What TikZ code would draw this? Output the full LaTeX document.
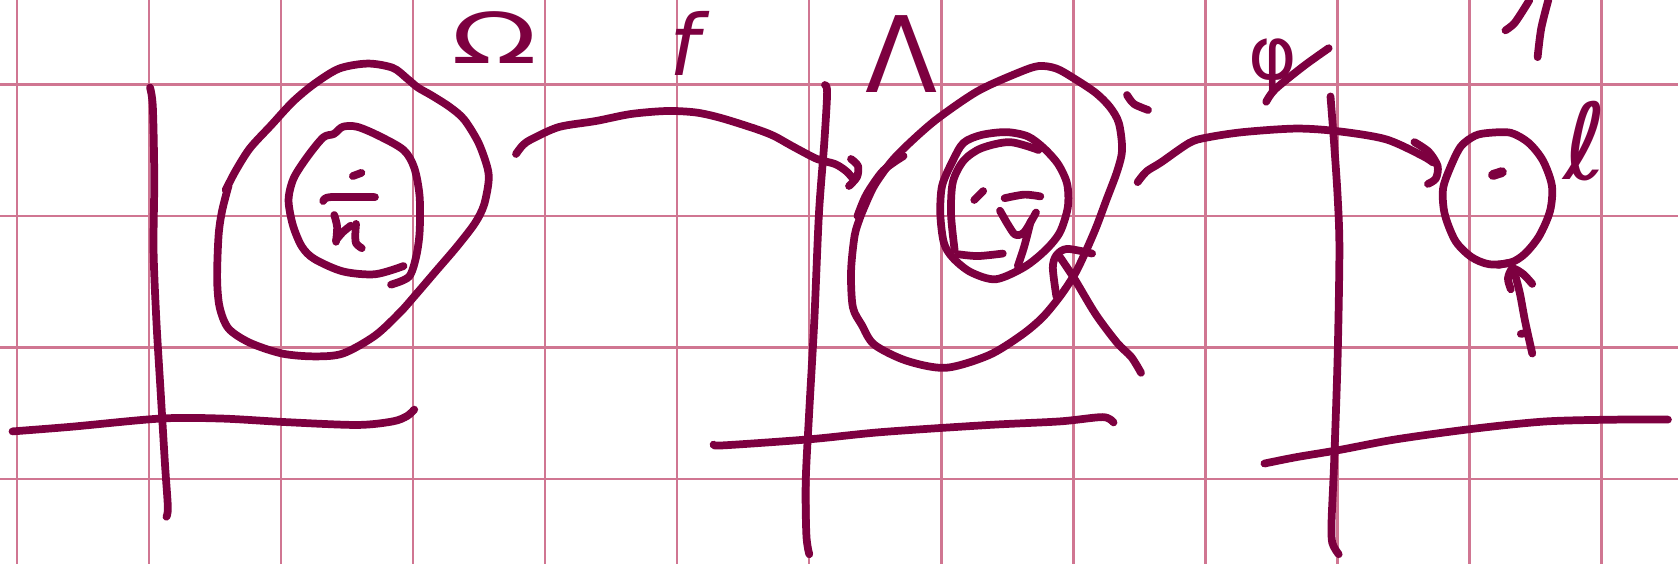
\documentclass[tikz,border=0pt]{standalone}
\usepackage{fontspec}
\setmainfont{DejaVu Sans}
\definecolor{ink}{RGB}{125,0,64}
\definecolor{gridc}{RGB}{208,118,146}
\begin{document}
\begin{tikzpicture}[x=0.01cm,y=-0.01cm,
  inkline/.style={draw=ink, line width=2.2pt, line cap=round, line join=round},
  gridline/.style={draw=gridc, line width=0.65pt},
  lbl/.style={text=ink, inner sep=0pt}]
\useasboundingbox (0,0) rectangle (1678,564);
\fill[white] (0,0) rectangle (1678,564);
\foreach \i in {0,...,12} \draw[gridline] ({17+132.05*\i},0) -- ({17+132.05*\i},564);
\foreach \j in {0,...,3} \draw[gridline] (0,{84.5+131.5*\j}) -- (1678,{84.5+131.5*\j});

% ---------- panel 1 ----------
\begin{scope}[scale=1/2.8]
\draw[inkline] plot[smooth] coordinates {(420,245) (428,300) (432,500) (430,700) (438,900) (450,1100) (462,1300) (470,1420) (466,1447)};
\draw[inkline] plot[smooth] coordinates {(35,1208) (200,1195) (450,1172) (620,1172) (800,1182) (1000,1190) (1100,1180) (1140,1165) (1160,1147)};
\draw[inkline] plot[smooth] coordinates {(632,532) (660,478) (700,415) (760,350) (820,285) (880,235) (950,192) (1030,178) (1100,190) (1140,220) (1170,245) (1210,268) (1260,300) (1300,335) (1340,400) (1365,470) (1368,510) (1355,575) (1330,625) (1280,690) (1220,760) (1160,830) (1120,875) (1050,940) (960,990) (880,998) (790,990) (700,960) (640,920) (615,860) (608,780) (612,660) (622,590) (640,520)};
\draw[inkline] plot[smooth] coordinates {(1130,745) (1050,768) (960,760) (880,725) (845,690) (820,630) (808,560) (822,500) (860,440) (905,385) (935,375) (960,355) (1000,355) (1060,380) (1130,420) (1160,470) (1175,550) (1175,650) (1165,720) (1145,775) (1095,797)};
\draw[inkline] (988,493) -- (1012,484);
\draw[inkline] plot[smooth] coordinates {(905,563) (925,552) (1050,552)};
\draw[inkline] plot[smooth] coordinates {(936,602) (944,635) (941,677)};
\draw[inkline] plot[smooth] coordinates {(941,672) (960,650) (982,632)};
\draw[inkline] plot[smooth] coordinates {(997,627) (995,655) (997,681) (1013,695)};
\end{scope}

% ---------- panel 2 ----------
\begin{scope}[shift={(560,0)},scale=1/2.8]
\draw[inkline] plot[smooth] coordinates {(742,238) (748,260) (740,400) (725,600) (712,900) (698,1150) (688,1350) (690,1500) (698,1552)};
\draw[inkline] plot[smooth] coordinates {(430,1245) (460,1247) (700,1230) (900,1210) (1200,1190) (1400,1180) (1520,1168) (1550,1183)};
\draw[inkline] plot[smooth] coordinates {(850,585) (880,520) (930,450) (990,390) (1060,330) (1170,255) (1280,205) (1340,185) (1390,192) (1440,220) (1500,260) (1540,300) (1565,345) (1574,420) (1560,480) (1530,560) (1500,640) (1465,720) (1440,770) (1400,830) (1350,890) (1290,940) (1200,995) (1080,1030) (970,1010) (880,965) (845,910) (820,860) (815,760) (825,660) (840,610) (850,585)};
\draw[inkline] plot[smooth] coordinates {(833,605) (858,545) (905,478) (962,437)};
% face
\draw[inkline] plot[smooth cycle] coordinates {(1130,400) (1180,378) (1250,370) (1310,382) (1355,415) (1395,460) (1420,515) (1422,580) (1400,650) (1360,700) (1300,748) (1220,782) (1150,762) (1100,722) (1075,680) (1065,600) (1070,520) (1100,450)};
\draw[inkline] plot[smooth] coordinates {(1105,700) (1095,600) (1100,510) (1130,450) (1180,415) (1260,398) (1340,420)};
\draw[inkline] (1160,560) -- (1185,535);
\draw[inkline] plot[smooth] coordinates {(1245,555) (1300,545) (1345,550)};
\draw[inkline] plot[smooth] coordinates {(1232,590) (1255,630) (1275,657) (1300,650) (1333,595)};
\draw[inkline] plot[smooth] coordinates {(1318,620) (1300,690) (1282,745)};
\draw[inkline] plot[smooth] coordinates {(1115,712) (1170,717) (1240,710)};
% loop and crossing stroke
\draw[inkline] plot[smooth] coordinates {(1390,830) (1380,750) (1390,715) (1420,697) (1490,710)};
\draw[inkline] plot[smooth] coordinates {(1400,720) (1440,780) (1500,880) (1560,960) (1600,1000) (1627,1044)};
\end{scope}

% ---------- panel 3 ----------
\begin{scope}[shift={(1118,0)},scale=1/2.8]
\draw[inkline] plot[smooth] coordinates {(595,270) (605,400) (615,550) (620,700) (615,1000) (605,1300) (598,1460) (600,1520) (618,1552)};
\draw[inkline] plot[smooth] coordinates {(410,1298) (500,1280) (620,1260) (780,1230) (1000,1200) (1200,1180) (1400,1175) (1540,1175)};
\draw[inkline] plot[smooth cycle] coordinates {(1040,372) (1100,372) (1150,400) (1190,450) (1215,520) (1210,590) (1180,660) (1140,710) (1100,735) (1040,740) (990,720) (945,675) (915,600) (910,530) (930,470) (960,410) (1000,380)};
\draw[inkline] (1065,742) -- (1100,735);
\draw[inkline, line width=2.8pt] (1050,490) -- (1075,482);
% arrow 2
\draw[inkline] plot[smooth] coordinates {(55,510) (80,480) (120,455) (200,400) (250,385) (350,370) (500,360) (620,368) (750,390) (850,435) (882,455)};
\draw[inkline] plot[smooth] coordinates {(830,398) (870,425) (895,465) (890,500) (868,515)};
% arrow 3
\draw[inkline] plot[smooth] coordinates {(1160,990) (1140,900) (1125,820) (1108,755)};
\draw[inkline] plot[smooth] coordinates {(1100,810) (1092,780) (1105,752) (1135,768) (1160,795)};
\draw[inkline] (1128,935) -- (1140,933);
% slash by phi
\draw[inkline] plot[smooth] coordinates {(415,285) (440,250) (520,185) (590,135)};
% partial strokes at top right
\draw[inkline] plot[smooth] coordinates {(1085,85) (1110,65) (1140,20) (1152,0)};
\draw[inkline] plot[smooth] coordinates {(1175,160) (1185,80) (1205,0)};
\end{scope}

% ---------- arrow 1 ----------
\draw[inkline] plot[smooth] coordinates {(516,154) (523,145) (532,139) (559,127) (596,121) (631,114) (667,111) (696,112.5) (721,118) (756,129) (774,136) (792,146) (817,159) (835,164) (846,171) (853,178.6)};
\draw[inkline] plot[smooth] coordinates {(851,159) (858,166) (857,177) (849,186)};
% small mark
\draw[inkline] plot[smooth] coordinates {(1127,95) (1134,104) (1148,110)};

% ---------- labels ----------
\node[lbl, font=\fontsize{20}{20}\selectfont, xscale=1.6] (omega) at (494,38) {Ω};
\node[lbl, font=\fontsize{24}{24}\selectfont\itshape] (f) at (684,43) {f};
\node[lbl, font=\fontsize{30}{30}\selectfont] (lambda) at (902,54) {Λ};
\node[lbl, font=\fontsize{21}{21}\selectfont] (phi) at (1273,67) {φ};
\node[lbl, font=\fontsize{30}{30}\selectfont] (ell) at (1585,141) {ℓ};
\end{tikzpicture}
\end{document}
